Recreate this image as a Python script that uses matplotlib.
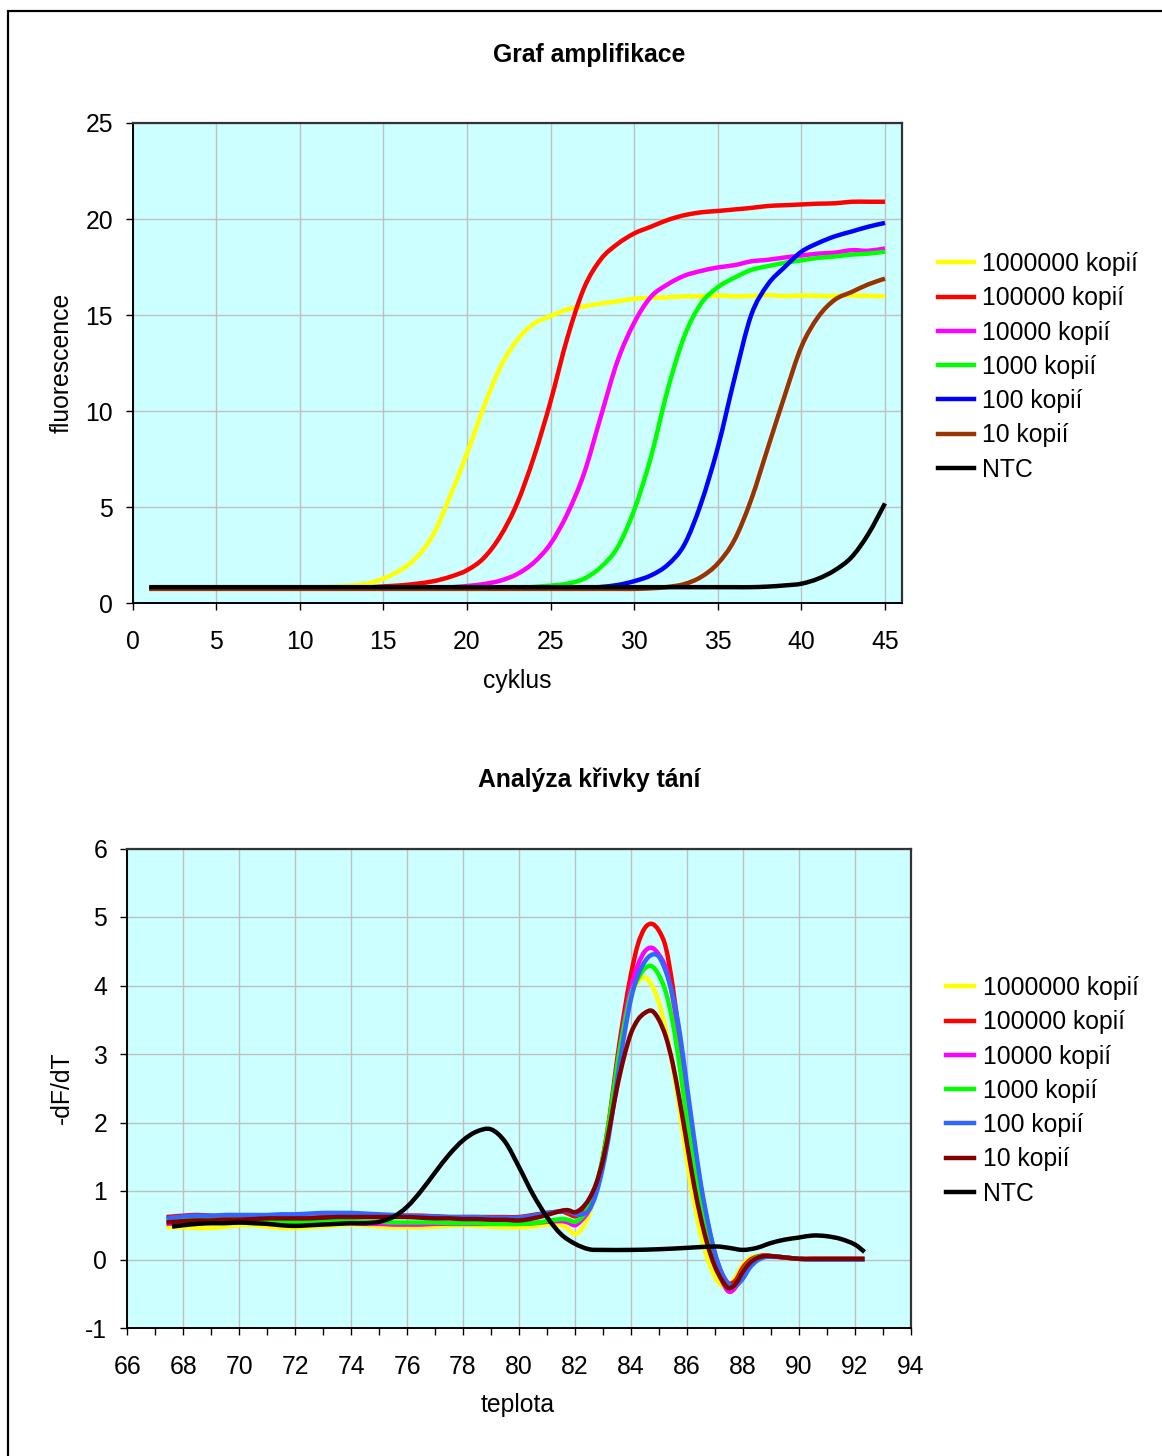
import matplotlib
matplotlib.use('Agg')
import numpy as np
import matplotlib.pyplot as plt
from matplotlib.patches import Rectangle, PathPatch
from matplotlib.path import Path
from matplotlib.lines import Line2D
from matplotlib.ticker import MultipleLocator

plt.rcParams['font.family'] = ['Liberation Sans', 'DejaVu Sans']
plt.rcParams['axes.unicode_minus'] = False

# ---------------- data: amplification ----------------
cycles = list(range(1, 46))
series_labels = ["1000000 kopií", "100000 kopií", "10000 kopií", "1000 kopií",
                 "100 kopií", "10 kopií", "NTC"]

amp_1e6 = [0.79] * 9 + [0.82, 0.83, 0.86, 0.92, 1.02, 1.28, 1.72, 2.4, 3.6, 5.6, 7.8,
                        10.2, 12.3, 13.7, 14.55, 14.95, 15.3, 15.45, 15.6, 15.72, 15.85,
                        15.9, 15.93, 15.98, 15.98, 16.02, 15.98, 16.0, 16.04, 15.99, 16.02,
                        16.0, 16.0, 16.02, 16.0, 15.98]
amp_1e5 = [0.79] * 13 + [0.82, 0.88, 0.93, 1.02, 1.15, 1.38, 1.72, 2.35, 3.5, 5.2, 7.6,
                         10.5, 13.8, 16.4, 17.9, 18.7, 19.25, 19.6, 19.95, 20.2, 20.35,
                         20.42, 20.5, 20.58, 20.68, 20.72, 20.76, 20.8, 20.82, 20.9, 20.9, 20.9]
amp_1e4 = [0.79] * 18 + [0.83, 0.9, 1.0, 1.18, 1.52, 2.12, 3.1, 4.65, 6.75, 9.7, 12.6,
                         14.6, 15.95, 16.6, 17.05, 17.3, 17.48, 17.6, 17.8, 17.88, 18.0,
                         18.1, 18.2, 18.25, 18.38, 18.35, 18.47]
amp_1e3 = [0.78] * 23 + [0.85, 0.92, 1.02, 1.28, 1.88, 2.9, 4.85, 7.6, 11.1, 13.9, 15.6,
                         16.45, 16.95, 17.35, 17.55, 17.72, 17.85, 17.98, 18.05, 18.15,
                         18.2, 18.3]
amp_1e2 = [0.78] * 27 + [0.85, 0.95, 1.15, 1.45, 2.0, 3.05, 5.2, 8.1, 11.7, 15.0, 16.6,
                         17.5, 18.3, 18.75, 19.1, 19.35, 19.6, 19.8]
amp_1e1 = [0.75] * 30 + [0.78, 0.85, 1.0, 1.37, 2.07, 3.3, 5.4, 8.1, 10.8, 13.35, 14.9,
                         15.8, 16.2, 16.6, 16.9]
amp_ntc = [0.84] * 37 + [0.87, 0.93, 1.02, 1.28, 1.72, 2.4, 3.6, 5.2]

# ---------------- data: melting curve ----------------
temp = [67.4, 68, 68.5, 69, 69.5, 70, 70.5, 71, 71.5, 72, 72.5, 73, 73.5, 74, 74.5,
        75, 75.5, 76, 76.5, 77, 77.5, 78, 78.5, 79, 79.5, 80, 80.5, 81, 81.5, 81.75,
        82, 82.25, 82.5, 82.75, 83, 83.25, 83.5, 83.75, 84, 84.25, 84.5, 84.75, 85,
        85.25, 85.5, 85.75, 86, 86.25, 86.5, 86.75, 87, 87.25, 87.5, 87.75, 88, 88.25,
        88.5, 88.75, 89, 89.5, 90, 90.5, 91, 91.5, 92, 92.35]

melt_1e6 = [0.47, 0.47, 0.46, 0.46, 0.48, 0.5, 0.5, 0.48, 0.46, 0.46, 0.47, 0.48, 0.5, 0.51,
            0.5, 0.48, 0.47, 0.47, 0.47, 0.48, 0.49, 0.5, 0.49, 0.48, 0.47, 0.47, 0.48, 0.51,
            0.5, 0.45,
            0.37, 0.45, 0.65, 1.0, 1.5, 2.15, 2.85, 3.45, 3.87, 4.05, 4.12, 4.0, 3.75, 3.35,
            2.8, 2.15, 1.45, 0.85, 0.35, 0.0, -0.25, -0.38, -0.38, -0.25, -0.08, 0.02, 0.05,
            0.06, 0.05,
            0.03, 0.01, 0.0, 0.0, 0.0, 0.0, 0.0]
melt_1e5 = [0.62, 0.64, 0.65, 0.64, 0.63, 0.63, 0.62, 0.61, 0.6, 0.6, 0.61, 0.62, 0.63, 0.63,
            0.63, 0.63, 0.64, 0.64, 0.64, 0.63, 0.62, 0.62, 0.62, 0.62, 0.62, 0.62, 0.65, 0.68,
            0.7, 0.67,
            0.63, 0.68, 0.79, 1.05, 1.49, 2.12, 2.9, 3.58, 4.16, 4.6, 4.84, 4.9, 4.8, 4.55,
            3.97, 3.19, 2.36, 1.73, 1.05, 0.52, 0.08, -0.2, -0.35, -0.3, -0.12, -0.01, 0.04,
            0.06, 0.05,
            0.03, 0.01, 0.01, 0.01, 0.01, 0.01, 0.01]
melt_1e4 = [0.52, 0.53, 0.53, 0.54, 0.54, 0.54, 0.54, 0.53, 0.52, 0.52, 0.52, 0.53, 0.53, 0.53,
            0.52, 0.52, 0.51, 0.51, 0.51, 0.52, 0.52, 0.52, 0.52, 0.52, 0.52, 0.52, 0.53, 0.55,
            0.56, 0.54,
            0.5, 0.58, 0.72, 1.0, 1.45, 2.05, 2.8, 3.45, 3.97, 4.3, 4.5, 4.55, 4.45, 4.25,
            3.8, 3.1, 2.3, 1.6, 0.95, 0.45, 0.02, -0.3, -0.47, -0.4, -0.2, -0.05, 0.03,
            0.05, 0.05,
            0.03, 0.01, 0.0, 0.0, 0.0, 0.0, 0.0]
melt_1e3 = [0.58, 0.59, 0.59, 0.58, 0.58, 0.58, 0.57, 0.56, 0.55, 0.54, 0.55, 0.56, 0.56, 0.56,
            0.55, 0.55, 0.54, 0.54, 0.54, 0.54, 0.53, 0.53, 0.53, 0.52, 0.52, 0.52, 0.53, 0.56,
            0.59, 0.58,
            0.55, 0.62, 0.78, 1.05, 1.5, 2.1, 2.8, 3.4, 3.87, 4.1, 4.25, 4.28, 4.15, 3.9,
            3.45, 2.8, 2.05, 1.4, 0.8, 0.35, -0.02, -0.28, -0.42, -0.35, -0.17, -0.04, 0.03,
            0.05, 0.05,
            0.03, 0.01, 0.0, 0.0, 0.0, 0.0, 0.0]
melt_1e2 = [0.6, 0.63, 0.64, 0.64, 0.65, 0.65, 0.65, 0.65, 0.66, 0.66, 0.67, 0.68, 0.68, 0.68,
            0.67, 0.66, 0.65, 0.64, 0.63, 0.63, 0.62, 0.62, 0.62, 0.61, 0.61, 0.61, 0.64, 0.68,
            0.7, 0.71,
            0.66, 0.66, 0.72, 0.95, 1.35, 1.9, 2.6, 3.25, 3.8, 4.15, 4.35, 4.45, 4.42, 4.2,
            3.85, 3.3, 2.55, 1.8, 1.1, 0.55, 0.1, -0.2, -0.36, -0.38, -0.28, -0.12, -0.02,
            0.03, 0.04,
            0.03, 0.01, 0.0, 0.0, 0.0, 0.0, 0.0]
melt_1e1 = [0.54, 0.56, 0.57, 0.57, 0.58, 0.58, 0.59, 0.6, 0.6, 0.6, 0.6, 0.61, 0.62, 0.62,
            0.62, 0.62, 0.62, 0.62, 0.61, 0.6, 0.6, 0.59, 0.59, 0.58, 0.58, 0.57, 0.6, 0.65,
            0.71, 0.72,
            0.69, 0.75, 0.88, 1.1, 1.45, 1.95, 2.5, 2.95, 3.3, 3.5, 3.6, 3.63, 3.5, 3.25,
            2.85, 2.3, 1.7, 1.1, 0.6, 0.2, -0.1, -0.3, -0.42, -0.35, -0.18, -0.05, 0.02,
            0.05, 0.05,
            0.03, 0.01, 0.01, 0.01, 0.01, 0.01, 0.01]

temp_ntc = [67.6, 68, 68.5, 69, 69.5, 70, 70.5, 71, 71.5, 72, 72.5, 73, 73.5, 74, 74.5, 75,
            75.5, 76, 76.5, 77, 77.5, 78, 78.5, 79, 79.5, 80, 80.5, 81, 81.5, 82, 82.5, 83,
            84, 85, 86, 87, 87.5, 88, 88.5, 89, 89.5, 90, 90.5, 91, 91.5, 92, 92.35]
melt_ntc = [0.48, 0.5, 0.52, 0.53, 0.53, 0.54, 0.53, 0.52, 0.5, 0.49, 0.5, 0.51, 0.52, 0.53,
            0.53, 0.55, 0.62, 0.77, 1.0, 1.27, 1.53, 1.74, 1.87, 1.9, 1.72, 1.35, 0.95, 0.62,
            0.37, 0.23, 0.15, 0.14, 0.14, 0.15, 0.17, 0.19, 0.17, 0.14, 0.17, 0.24, 0.29, 0.32,
            0.35, 0.34, 0.3, 0.22, 0.11]

amp_colors = ["#FFFF00", "#FF0000", "#FF00FF", "#00FF00", "#0000FF", "#993300", "#000000"]
melt_colors = ["#FFFF00", "#FF0000", "#FF00FF", "#00FF00", "#3366FF", "#800000", "#000000"]

# ---------------- figure ----------------
W, H = 1162, 1456
fig = plt.figure(figsize=(W / 100, H / 100), dpi=100)


def fx(px):
    return px / W


def fy(py):
    return 1 - py / H


FS = 17.8
LW = 3.2
BG = "#CCFFFF"
GRID = "#C0C0C0"


def style_axes(ax):
    ax.set_facecolor(BG)
    ax.grid(True, color=GRID, linewidth=1.0)
    ax.set_axisbelow(True)
    for s in ("left", "bottom"):
        ax.spines[s].set_color("black")
        ax.spines[s].set_linewidth(1.4)
    for s in ("top", "right"):
        ax.spines[s].set_color("#333333")
        ax.spines[s].set_linewidth(1.6)


def smooth_line(ax, x, y, color, zorder):
    """Draw a smoothed (Excel-like) line through the data points in data coords."""
    pts = np.column_stack([np.asarray(x, float), np.asarray(y, float)])
    n = len(pts)
    verts = [tuple(pts[0])]
    codes = [Path.MOVETO]
    for i in range(n - 1):
        p0 = pts[i - 1] if i > 0 else pts[i]
        p1 = pts[i]
        p2 = pts[i + 1]
        p3 = pts[i + 2] if i + 2 < n else pts[i + 1]
        c1 = p1 + (p2 - p0) / 6.0
        c2 = p2 - (p3 - p1) / 6.0
        verts += [tuple(c1), tuple(c2), tuple(p2)]
        codes += [Path.CURVE4] * 3
    patch = PathPatch(Path(verts, codes), fill=False, edgecolor=color, linewidth=LW,
                      joinstyle="round", capstyle="butt", zorder=zorder)
    ax.add_patch(patch)


def legend_handles(colors):
    return [Line2D([0], [0], color=c, lw=LW) for c in colors]


# ---- top: amplification ----
ax1 = fig.add_axes([fx(132.5), fy(603.3), (901.7 - 132.5) / W, (603.3 - 123) / H])
style_axes(ax1)
amp_series = [amp_1e6, amp_1e5, amp_1e4, amp_1e3, amp_1e2, amp_1e1, amp_ntc]
for k, (vals, col) in enumerate(zip(amp_series, amp_colors)):
    smooth_line(ax1, cycles, vals, col, 2 + k * 0.01)
ax1.set_xlim(0, 46)
ax1.set_ylim(0, 25)
ax1.set_xticks(range(0, 46, 5))
ax1.set_yticks(range(0, 26, 5))
ax1.tick_params(axis="x", direction="out", length=5, width=1, labelsize=FS, pad=14)
ax1.tick_params(axis="y", direction="out", length=5, width=1, labelsize=FS, pad=9)
ax1.legend(legend_handles(amp_colors), series_labels, loc="upper left",
           bbox_to_anchor=(fx(938), fy(252)), bbox_transform=fig.transFigure,
           frameon=False, fontsize=FS, handlelength=1.45, handletextpad=0.33,
           labelspacing=0.415, borderpad=0, borderaxespad=0)

fig.text(fx(589), fy(55), "Graf amplifikace", ha="center", va="center", fontsize=FS,
         fontweight="bold")
fig.text(fx(62), fy(363), "fluorescence", ha="center", va="center", fontsize=FS, rotation=90)
fig.text(fx(517), fy(681), "cyklus", ha="center", va="center", fontsize=FS)

# ---- bottom: melting curve ----
ax2 = fig.add_axes([fx(127.3), fy(1328), (910.7 - 127.3) / W, (1328 - 848.5) / H])
style_axes(ax2)
melt_series = [melt_1e6, melt_1e5, melt_1e4, melt_1e3, melt_1e2, melt_1e1]
for k, (vals, col) in enumerate(zip(melt_series, melt_colors[:6])):
    smooth_line(ax2, temp, vals, col, 2 + k * 0.01)
smooth_line(ax2, temp_ntc, melt_ntc, melt_colors[6], 2.1)
ax2.set_xlim(66, 94)
ax2.set_ylim(-1, 6)
ax2.set_xticks(range(66, 95, 2))
ax2.xaxis.set_minor_locator(MultipleLocator(1))
ax2.set_yticks(range(-1, 7))
ax2.grid(False, which="minor")
ax2.tick_params(axis="x", which="both", direction="out", length=5, width=1, labelsize=FS,
                pad=14.5)
ax2.tick_params(axis="y", direction="out", length=5, width=1, labelsize=FS, pad=9.5)
ax2.legend(legend_handles(melt_colors), series_labels, loc="upper left",
           bbox_to_anchor=(fx(946), fy(976)), bbox_transform=fig.transFigure,
           frameon=False, fontsize=FS, handlelength=1.15, handletextpad=0.33,
           labelspacing=0.415, borderpad=0, borderaxespad=0)

fig.text(fx(589), fy(780), "Analýza křivky tání", ha="center", va="center", fontsize=FS,
         fontweight="bold")
fig.text(fx(62), fy(1088), "-dF/dT", ha="center", va="center", fontsize=FS, rotation=90)
fig.text(fx(518), fy(1405), "teplota", ha="center", va="center", fontsize=FS)

# outer frame
fig.patches.append(Rectangle((fx(8), -0.05), 1.1, fy(11) + 0.05, transform=fig.transFigure,
                             fill=False, edgecolor="black", linewidth=1.6, clip_on=False))

fig.savefig("out.png", dpi=100)
